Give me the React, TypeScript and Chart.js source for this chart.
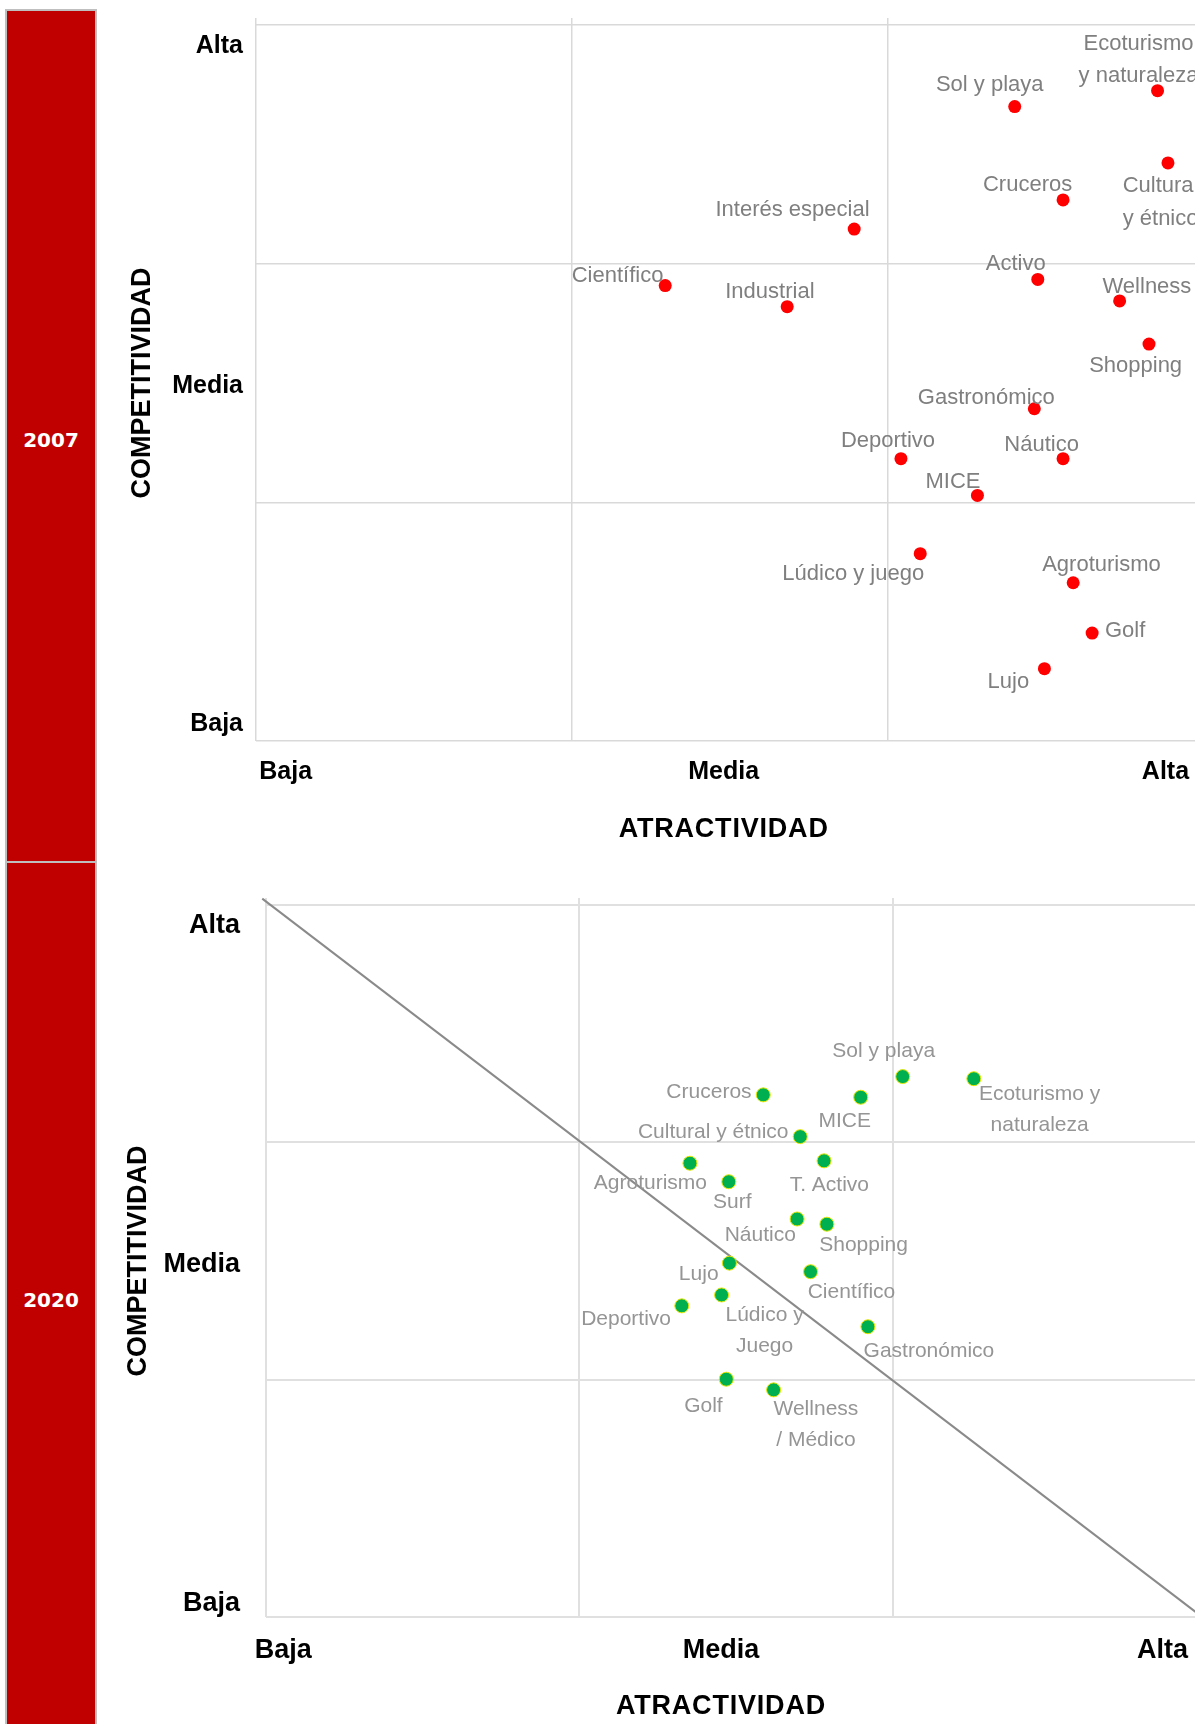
import React, { useEffect, useRef } from 'react';
import { Chart, registerables } from 'chart.js';

Chart.register(...registerables);

const FONT = "'Liberation Sans', Arial, Helvetica, sans-serif";
const LEVELS = ['Baja', 'Media', 'Alta'];
const GRID_STEPS = [0, 1, 2, 3];
const X_TITLE = 'ATRACTIVIDAD';
const Y_TITLE = 'COMPETITIVIDAD';

// ---------- 2007 ----------
const PRODUCTS_2007 = [
  'Ecoturismo\ny naturaleza', 'Sol y playa', 'Cultural\ny étnico', 'Cruceros', 'Interés especial',
  'Científico', 'Industrial', 'Activo', 'Wellness', 'Shopping', 'Gastronómico', 'Deportivo',
  'Náutico', 'MICE', 'Lúdico y juego', 'Agroturismo', 'Golf', 'Lujo',
];
const ATTRACT_2007 = [2.853, 2.401, 2.886, 2.554, 1.893, 1.295, 1.681, 2.474, 2.733, 2.826, 2.463, 2.041, 2.554, 2.283, 2.102, 2.586, 2.646, 2.495];
const COMPET_2007 = [2.725, 2.658, 2.422, 2.267, 2.145, 1.908, 1.82, 1.934, 1.844, 1.663, 1.392, 1.183, 1.183, 1.029, 0.785, 0.663, 0.452, 0.303];
const X_LEVEL_AT_2007 = [0.094, 1.48, 2.878];
const Y_LEVEL_AT_2007 = [0.071, 1.489, 2.91];

// ---------- 2020 ----------
const PRODUCTS_2020 = [
  'Sol y playa', 'Ecoturismo y\nnaturaleza', 'Cruceros', 'MICE', 'Cultural y étnico', 'Agroturismo',
  'T. Activo', 'Surf', 'Náutico', 'Shopping', 'Lujo', 'Científico', 'Lúdico y\nJuego', 'Deportivo',
  'Gastronómico', 'Golf', 'Wellness\n/ Médico',
];
const ATTRACT_2020 = [2.032, 2.259, 1.587, 1.898, 1.705, 1.353, 1.781, 1.477, 1.695, 1.79, 1.479, 1.738, 1.454, 1.327, 1.921, 1.469, 1.62];
const COMPET_2020 = [2.277, 2.268, 2.2, 2.19, 2.024, 1.912, 1.922, 1.834, 1.677, 1.655, 1.491, 1.455, 1.357, 1.311, 1.223, 1.002, 0.957];
const X_LEVEL_AT_2020 = [0.055, 1.452, 2.861];
const Y_LEVEL_AT_2020 = [0.058, 1.486, 2.912];
const DIAGONAL_X_2020 = [-0.012, 3.0];
const DIAGONAL_Y_2020 = [3.027, -0.012];

// label placement (pixel offsets of each label from its dot) – presentation only
const LABEL_OFFSETS_2007 = [
  [-19, -48.7], [-25, -24], [-7.4, 21], [-35.5, -17], [-61.7, -21], [-47.7, -11.7], [-17.3, -16.4],
  [-22, -17], [27.3, -16], [-13.4, 20], [-48, -13], [-13, -20], [-21.5, -16], [-24.4, -15],
  [-67, 18.5], [28.3, -19.4], [33, -4.3], [-36, 11.3],
];
const LABEL_OFFSETS_2020 = [
  [-19, -27.4], [65.8, 13.3], [-54.3, -4.3], [-16, 21.7], [-87, -6.7], [-39.5, 17.7], [5.3, 22.3],
  [3.5, 18], [-36.8, 14.3], [36.7, 19], [-30.7, 9.4], [40.9, 19], [43, 18.3], [-55.7, 11.7],
  [61, 22.6], [-22.9, 25], [42.3, 17.3],
];

type PanelSpec = {
  year: string;
  names: string[];
  xs: number[];
  ys: number[];
  xLevelAt: number[];
  yLevelAt: number[];
  offsets: number[][];
  lineGap: number;
  labelNudge: number;
  labelSize: number;
  labelColor: string;
  dotRadius: number;
  dotColor: string;
  dotBorder: string;
  dotBorderWidth: number;
  diagonal?: { x: number; y: number }[];
  padLeft: number;
  padRight: number;
  padTop: number;
  padBottom: number;
  yWidth: number;
  xHeight: number;
  yTitlePad: number;
  yTickPad: number;
  xTickPad: number;
  tickSize: number;
  yTitleSize: number;
  xTitleSize: number;
  xTitleGap: number;
  gridColor: string;
  gridWidth: number;
};

const CANVAS_W = 1230;
const CANVAS_H = 862;

function overlayPlugin(s: PanelSpec) {
  return {
    id: 'overlay' + s.year,
    afterDatasetsDraw(chart: any) {
      const ctx = chart.ctx as any;
      const meta = chart.getDatasetMeta(0);
      ctx.save();
      ctx.font = `${s.labelSize}px ${FONT}`;
      ctx.fillStyle = s.labelColor;
      ctx.textAlign = 'center';
      ctx.textBaseline = 'middle';
      meta.data.forEach((pt: any, i: number) => {
        const [dx, dy] = s.offsets[i];
        s.names[i].split('\n').forEach((line, j) => {
          ctx.fillText(line, pt.x + dx, pt.y + dy + s.labelNudge + j * s.lineGap);
        });
      });
      const xs = chart.scales.x;
      ctx.font = `bold ${s.xTitleSize}px ${FONT}`;
      ctx.fillStyle = '#000';
      if ('letterSpacing' in ctx) ctx.letterSpacing = '0.8px';
      ctx.fillText(X_TITLE, xs.getPixelForValue(s.xLevelAt[1]), chart.chartArea.bottom + s.xTitleGap);
      ctx.restore();
    },
  };
}

function buildConfig(s: PanelSpec): any {
  const gridColor = (c: any) => (c.tick && GRID_STEPS.includes(c.tick.value) ? s.gridColor : 'rgba(0,0,0,0)');
  const xTicks = [...GRID_STEPS, ...s.xLevelAt].sort((a, b) => a - b);
  const yTicks = [...GRID_STEPS, ...s.yLevelAt].sort((a, b) => a - b);
  const tickFont = { family: FONT, size: s.tickSize, weight: 'bold' as const };
  const datasets: any[] = [
    {
      label: s.year,
      data: s.xs.map((x, i) => ({ x, y: s.ys[i] })),
      xAxisID: 'x',
      yAxisID: 'y',
      showLine: false,
      pointRadius: s.dotRadius,
      pointHoverRadius: s.dotRadius,
      pointBackgroundColor: s.dotColor,
      pointBorderColor: s.dotBorder,
      pointBorderWidth: s.dotBorderWidth,
    },
  ];
  if (s.diagonal) {
    datasets.push({
      label: 'diagonal',
      data: s.diagonal,
      xAxisID: 'x',
      yAxisID: 'y',
      showLine: true,
      pointRadius: 0,
      borderColor: '#8a8a8a',
      borderWidth: 2,
      clip: false,
      fill: false,
    });
  }
  return {
    type: 'scatter',
    data: { datasets },
    plugins: [overlayPlugin(s)],
    options: {
      animation: false,
      responsive: false,
      maintainAspectRatio: false,
      events: [],
      layout: { padding: { left: s.padLeft, right: s.padRight, top: s.padTop, bottom: s.padBottom } },
      plugins: { legend: { display: false }, tooltip: { enabled: false } },
      scales: {
        x: {
          type: 'linear',
          position: 'bottom',
          min: 0,
          max: 3,
          afterBuildTicks: (sc: any) => {
            sc.ticks = xTicks.map((v) => ({ value: v }));
          },
          afterFit: (sc: any) => {
            sc.height = s.xHeight;
            sc.paddingLeft = 0;
            sc.paddingRight = 0;
          },
          grid: { color: gridColor, lineWidth: s.gridWidth, drawTicks: false },
          border: { display: false },
          ticks: {
            autoSkip: false,
            maxRotation: 0,
            minRotation: 0,
            padding: s.xTickPad,
            color: '#000',
            font: tickFont,
            callback: (v: number) => {
              const i = s.xLevelAt.indexOf(v);
              return i >= 0 ? LEVELS[i] : '';
            },
          },
        },
        xTop: {
          type: 'linear',
          axis: 'x',
          position: 'top',
          min: 0,
          max: 3,
          afterBuildTicks: (sc: any) => {
            sc.ticks = GRID_STEPS.map((v) => ({ value: v }));
          },
          afterFit: (sc: any) => {
            sc.height = 7;
            sc.paddingLeft = 0;
            sc.paddingRight = 0;
          },
          grid: { color: s.gridColor, lineWidth: s.gridWidth, drawOnChartArea: false, drawTicks: true, tickLength: 7 },
          border: { display: false },
          ticks: { display: false },
        },
        y: {
          type: 'linear',
          position: 'left',
          min: 0,
          max: 3,
          afterBuildTicks: (sc: any) => {
            sc.ticks = yTicks.map((v) => ({ value: v }));
          },
          afterFit: (sc: any) => {
            sc.width = s.yWidth;
            sc.paddingTop = 0;
            sc.paddingBottom = 0;
          },
          grid: { color: gridColor, lineWidth: s.gridWidth, drawTicks: false },
          border: { display: false },
          ticks: {
            autoSkip: false,
            padding: s.yTickPad,
            color: '#000',
            font: tickFont,
            callback: (v: number) => {
              const i = s.yLevelAt.indexOf(v);
              return i >= 0 ? LEVELS[i] : '';
            },
          },
          title: {
            display: true,
            text: Y_TITLE,
            color: '#000',
            font: { family: FONT, size: s.yTitleSize, weight: 'bold' },
            padding: { top: s.yTitlePad, bottom: 0 },
          },
        },
      },
    },
  };
}

const PANEL_2007: PanelSpec = {
  year: '2007',
  names: PRODUCTS_2007,
  xs: ATTRACT_2007,
  ys: COMPET_2007,
  xLevelAt: X_LEVEL_AT_2007,
  yLevelAt: Y_LEVEL_AT_2007,
  offsets: LABEL_OFFSETS_2007,
  lineGap: 32.5,
  labelNudge: 2,
  labelSize: 22,
  labelColor: '#7f7f7f',
  dotRadius: 6.5,
  dotColor: '#ff0000',
  dotBorder: '#ff0000',
  dotBorderWidth: 0,
  padLeft: 100,
  padRight: 26,
  padTop: 18,
  padBottom: 17,
  yWidth: 156,
  xHeight: 104,
  yTitlePad: 26,
  yTickPad: 13,
  xTickPad: 16,
  tickSize: 25,
  yTitleSize: 27,
  xTitleSize: 27,
  xTitleGap: 88.5,
  gridColor: '#d9d9d9',
  gridWidth: 1.5,
};

const PANEL_2020: PanelSpec = {
  year: '2020',
  names: PRODUCTS_2020,
  xs: ATTRACT_2020,
  ys: COMPET_2020,
  xLevelAt: X_LEVEL_AT_2020,
  yLevelAt: Y_LEVEL_AT_2020,
  offsets: LABEL_OFFSETS_2020,
  lineGap: 31,
  labelNudge: 2,
  labelSize: 21,
  labelColor: '#959595',
  dotRadius: 7,
  dotColor: '#00b050',
  dotBorder: '#e8e800',
  dotBorderWidth: 1,
  diagonal: DIAGONAL_X_2020.map((x, i) => ({ x, y: DIAGONAL_Y_2020[i] })),
  padLeft: 100,
  padRight: 24,
  padTop: 36,
  padBottom: 3,
  yWidth: 166,
  xHeight: 104,
  yTitlePad: 22,
  yTickPad: 26,
  xTickPad: 17,
  tickSize: 27,
  yTitleSize: 27,
  xTitleSize: 27,
  xTitleGap: 90,
  gridColor: '#e0e0e0',
  gridWidth: 2,
};

function Panel({ spec, top }: { spec: PanelSpec; top: number }) {
  const ref = useRef<HTMLCanvasElement>(null);
  useEffect(() => {
    if (!ref.current) return;
    const chart = new Chart(ref.current, buildConfig(spec));
    return () => chart.destroy();
  }, [spec]);
  return (
    <canvas
      ref={ref}
      width={CANVAS_W}
      height={CANVAS_H}
      style={{ position: 'absolute', left: 0, top, width: CANVAS_W, height: CANVAS_H, display: 'block' }}
    />
  );
}

const yearStyle: React.CSSProperties = {
  position: 'absolute',
  left: 7,
  width: 88,
  height: 24,
  lineHeight: '24px',
  textAlign: 'center',
  color: '#ffffff',
  fontFamily: "'DejaVu Sans', sans-serif",
  fontWeight: 'bold',
  fontSize: 20,
};

export default function App() {
  return (
    <div
      style={{
        position: 'absolute',
        left: 0,
        top: 0,
        width: 1195,
        height: 1724,
        overflow: 'hidden',
        background: '#ffffff',
      }}
    >
      <Panel spec={PANEL_2007} top={0} />
      <Panel spec={PANEL_2020} top={862} />
      <div
        style={{
          position: 'absolute',
          left: 5,
          top: 9,
          width: 92,
          height: 1740,
          boxSizing: 'border-box',
          border: '2px solid #bfbfbf',
          background: '#c00000',
        }}
      />
      <div style={{ position: 'absolute', left: 7, top: 861, width: 88, height: 2, background: '#bfbfbf' }} />
      <div style={{ ...yearStyle, top: 428 }}>2007</div>
      <div style={{ ...yearStyle, top: 1288 }}>2020</div>
    </div>
  );
}
